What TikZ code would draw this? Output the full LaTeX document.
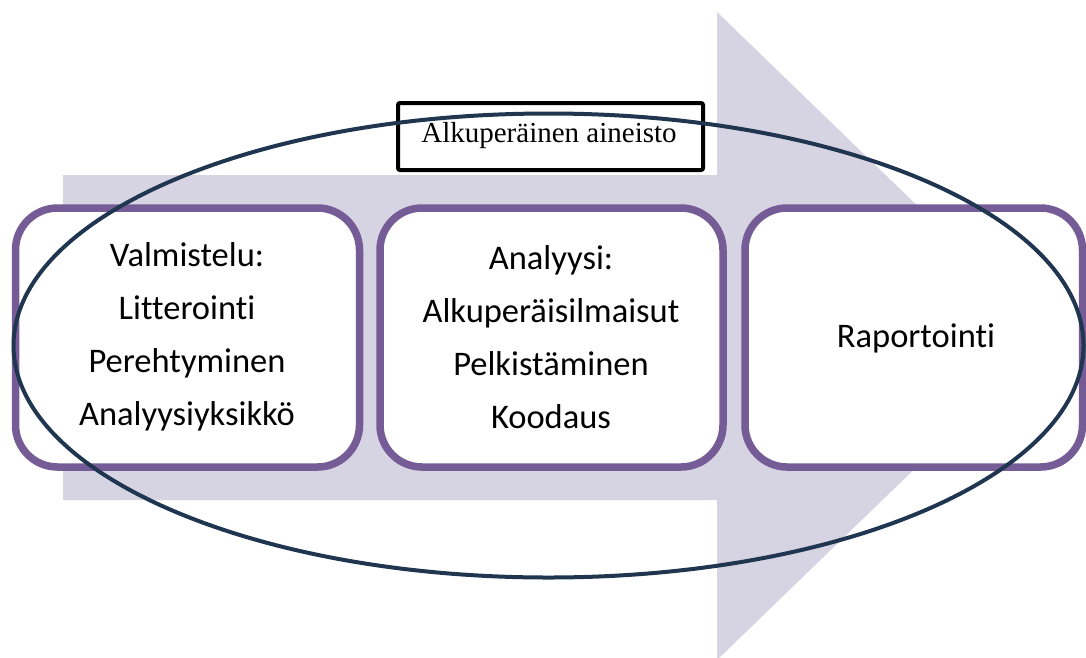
\documentclass[tikz,border=0pt]{standalone}
\usepackage{fontspec}
\newfontfamily\carl[Ligatures=NoCommon]{Carlito}
\newfontfamily\tms{Liberation Serif}
\usetikzlibrary{shadows}
\definecolor{arrowfill}{HTML}{D6D3E2}
\definecolor{boxline}{HTML}{765C96}
\definecolor{ellline}{HTML}{1F3550}
\tikzset{
  stage/.style={draw=boxline, line width=7.5pt, fill=white, rounded corners=42pt,
    drop shadow={shadow xshift=2pt, shadow yshift=-3pt, opacity=0.35, fill=black!60}},
  stagetext/.style={font=\carl\fontsize{34.5}{53}\selectfont, align=center, text=black},
  titlebox/.style={draw=black, line width=4pt, fill=white, rounded corners=2pt},
}
\begin{document}
\begin{tikzpicture}[x=1pt,y=-1pt]
\useasboundingbox (0,0) rectangle (1086,657);
\clip (0,0) rectangle (1086,657);
% big arrow
\fill[arrowfill] (63,175) -- (717,175) -- (717,12) -- (1052,336) -- (717,660) -- (717,500) -- (63,500) -- cycle;
% stages
\path[stage] (15.5,208) rectangle (359.5,467);
\path[stage] (380,208) rectangle (723,467);
\path[stage] (745,208) rectangle (1082.5,467);
\node[stagetext] (s1) at (187,337) {Valmistelu:\\Litterointi\\Perehtyminen\\Analyysiyksikkö};
\node[stagetext] (s2) at (551,337) {Analyysi:\\Alkuperäisilmaisut\\Pelkistäminen\\Koodaus};
\node[stagetext] (s3) at (916,338) {Raportointi};
% title box
\path[titlebox] (398,103) rectangle (703,170);
\node[font=\tms\fontsize{29}{34}\selectfont] (t) at (549,136) {Alkuperäinen aineisto};
% ellipse
\draw[ellline, line width=4pt] (548.5,345.5) ellipse [x radius=535, y radius=232];
\end{tikzpicture}
\end{document}
